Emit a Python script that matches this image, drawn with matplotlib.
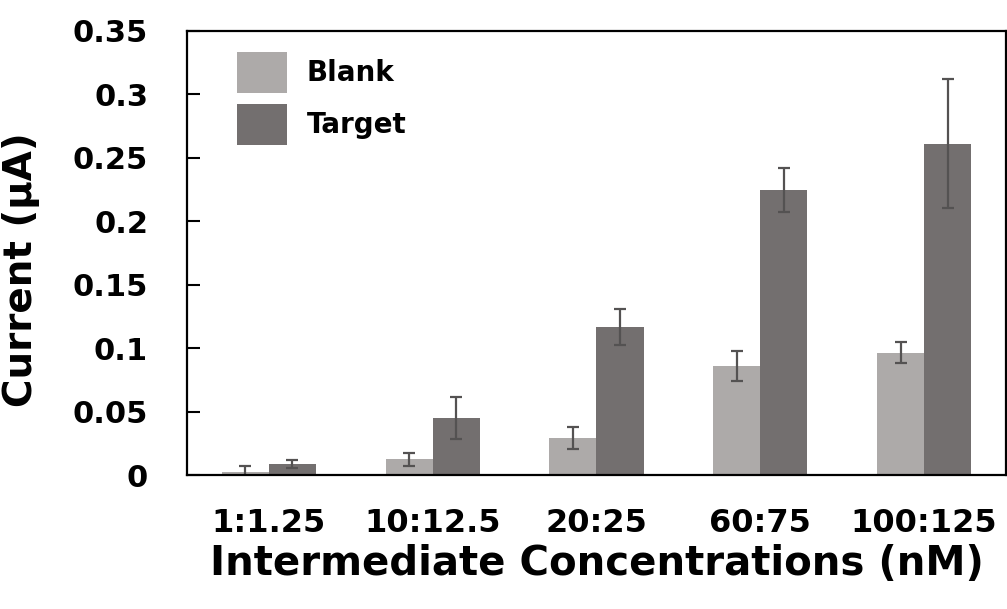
import numpy as np
import matplotlib.pyplot as plt

# concentration pairs and measured currents (µA)
categories = ['1:1.25', '10:12.5', '20:25', '60:75', '100:125']
blank_mean = [0.0025, 0.0124, 0.0290, 0.0860, 0.0965]
blank_err = [0.0045, 0.0049, 0.0088, 0.0116, 0.0081]
target_mean = [0.0088, 0.0450, 0.1165, 0.2245, 0.2610]
target_err = [0.0032, 0.0167, 0.0142, 0.0174, 0.0510]

plt.rcParams['font.family'] = 'DejaVu Sans'
plt.rcParams['font.weight'] = 'bold'

fig = plt.figure(figsize=(10.07, 6.09), dpi=100)
ax = fig.add_axes([0.1857, 0.22, 0.8133, 0.7295])

x = np.arange(len(categories))
w = 0.287
err_kw = dict(ecolor='#545252', elinewidth=1.6, capsize=4.5, capthick=1.6)

ax.bar(x - w / 2, blank_mean, w, yerr=blank_err, color='#adaaa9',
       label='Blank', error_kw=err_kw)
ax.bar(x + w / 2, target_mean, w, yerr=target_err, color='#736f6f',
       label='Target', error_kw=err_kw)

ax.set_xlim(-0.5, len(categories) - 0.5)
ax.set_ylim(0, 0.35)
ax.set_yticks(np.arange(0, 0.351, 0.05))
ax.set_yticklabels(['0', '0.05', '0.1', '0.15', '0.2', '0.25', '0.3', '0.35'])
ax.set_xticks(x)
ax.set_xticklabels(categories)

ax.tick_params(axis='y', direction='in', length=9, width=1.5, pad=28,
               labelsize=22)
ax.tick_params(axis='x', length=0, pad=24, labelsize=23)
for s in ax.spines.values():
    s.set_linewidth(1.6)
    s.set_color('black')

ax.set_xlabel('Intermediate Concentrations (nM)', fontsize=29,
              fontweight='bold', labelpad=3)
ax.set_ylabel('Current (µA)', fontsize=28, fontweight='bold')
ax.yaxis.set_label_coords(-0.18, 0.462)

ax.legend(loc='upper left', bbox_to_anchor=(0.061, 0.953), frameon=False,
          fontsize=20, handlelength=1.8, handleheight=1.9,
          handletextpad=0.72, labelspacing=0.4, borderpad=0,
          borderaxespad=0)

fig.savefig('out.png', dpi=100)
